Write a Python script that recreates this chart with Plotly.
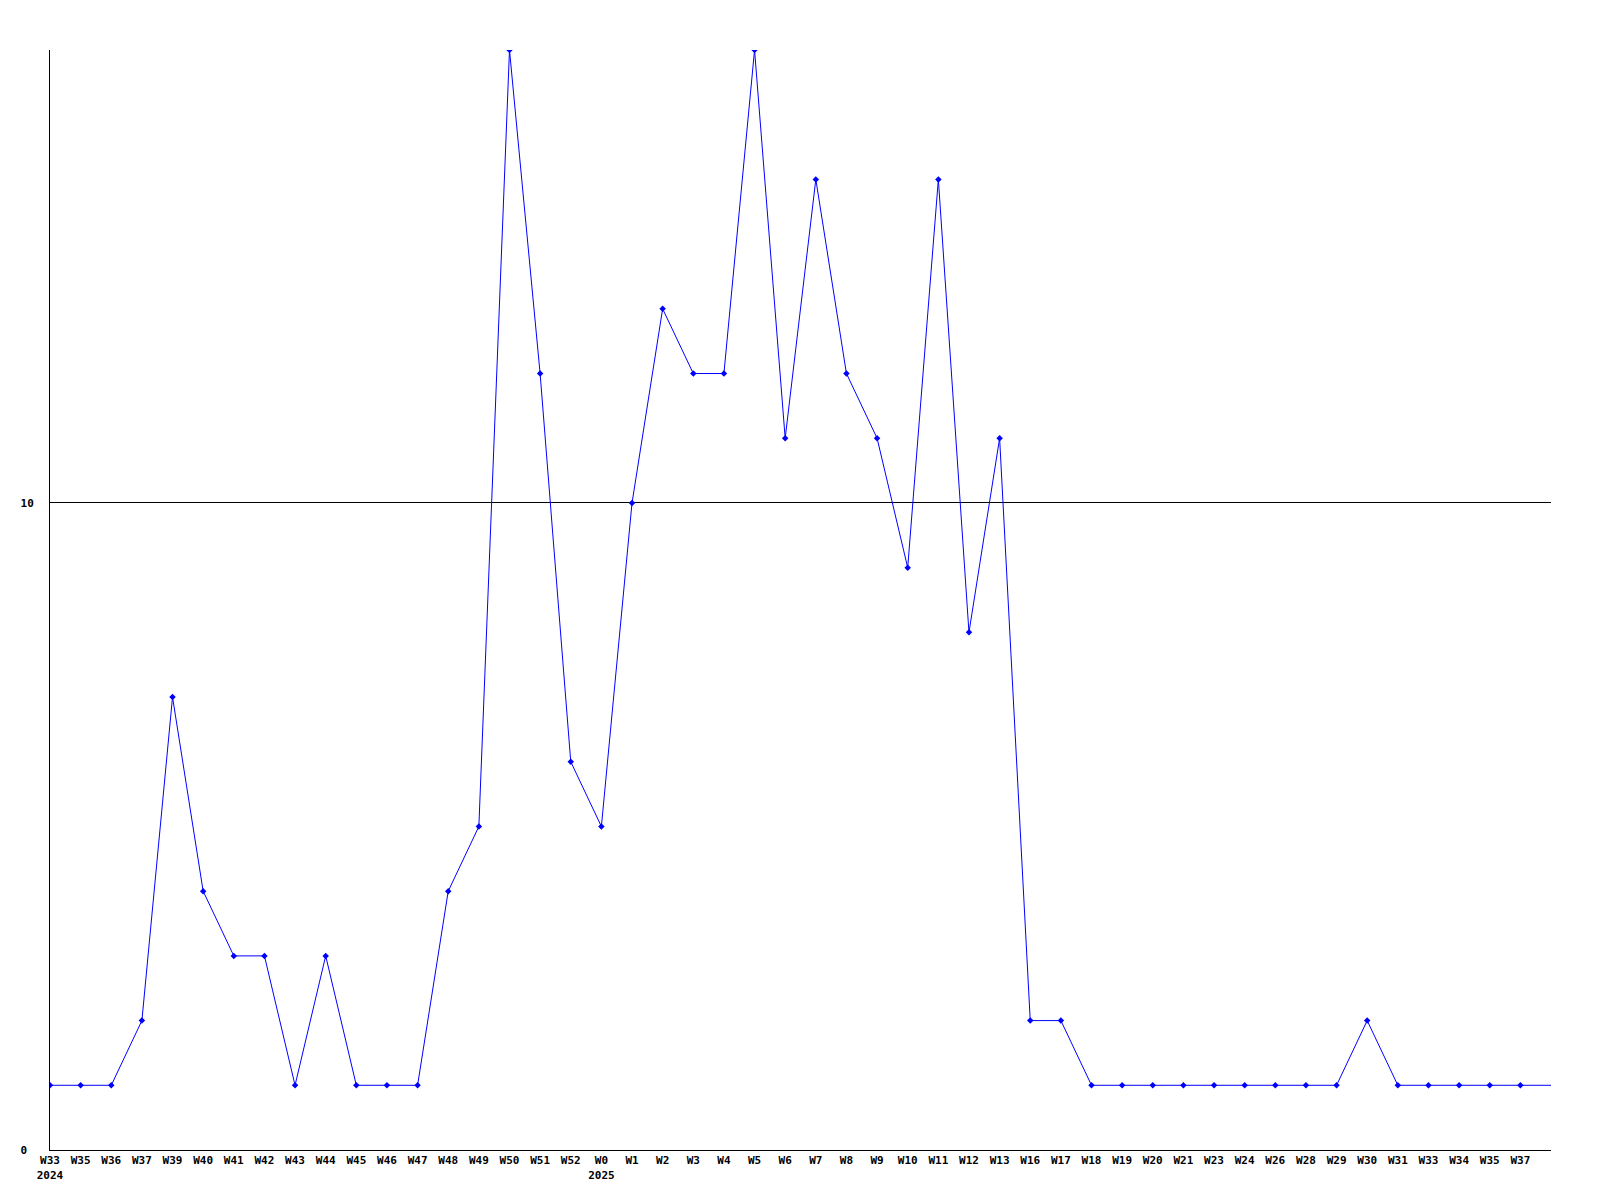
import plotly.graph_objects as go

week_labels = [
    "W33<br>2024", "W35", "W36", "W37", "W39", "W40", "W41", "W42", "W43", "W44",
    "W45", "W46", "W47", "W48", "W49", "W50", "W51", "W52", "W0<br>2025", "W1",
    "W2", "W3", "W4", "W5", "W6", "W7", "W8", "W9", "W10", "W11",
    "W12", "W13", "W16", "W17", "W18", "W19", "W20", "W21", "W23", "W24",
    "W26", "W28", "W29", "W30", "W31", "W33", "W34", "W35", "W37",
]
counts = [
    1, 1, 1, 2, 7, 4, 3, 3, 1, 3,
    1, 1, 1, 4, 5, 17, 12, 6, 5, 10,
    13, 12, 12, 17, 11, 15, 12, 11, 9, 15,
    8, 11, 2, 2, 1, 1, 1, 1, 1, 1,
    1, 1, 1, 2, 1, 1, 1, 1, 1,
]
# current (unlabelled) week, drawn as line only
current_count = 1

y_ticks = [0, 10]
y_tick_text = ["0\u00a0", "10"]

x_idx = list(range(len(counts)))
line_x = x_idx + [len(counts)]
line_y = counts + [current_count]

mono = dict(family="DejaVu Sans Mono", size=11, color="black", weight="bold")

fig = go.Figure()
fig.add_trace(go.Scatter(
    x=line_x, y=line_y, mode="lines",
    line=dict(color="#0000ff", width=1), hoverinfo="skip", showlegend=False,
))
fig.add_trace(go.Scatter(
    x=x_idx, y=counts, mode="markers",
    marker=dict(color="#0000ff", symbol="diamond", size=5, line_width=0),
    showlegend=False,
))

# page body adds an 8px offset, so the figure is sized to fit inside it
fig.update_layout(
    width=1592, height=1192,
    paper_bgcolor="white", plot_bgcolor="white",
    margin=dict(l=42, r=49, t=42, b=50),
    font=mono,
)
fig.update_xaxes(
    range=[0, len(counts)], tickmode="array", tickvals=x_idx, ticktext=week_labels,
    showgrid=False, zeroline=False, showline=True, linecolor="black", linewidth=1,
    ticks="", tickfont=mono, tickangle=0,
)
fig.update_yaxes(
    range=[0, 17], tickmode="array", tickvals=y_ticks, ticktext=y_tick_text,
    showgrid=True, gridcolor="black", gridwidth=1, zeroline=False,
    showline=True, linecolor="black", linewidth=1, ticks="", tickfont=mono,
    ticklabelstandoff=13,
)

fig.write_html("out.html")
